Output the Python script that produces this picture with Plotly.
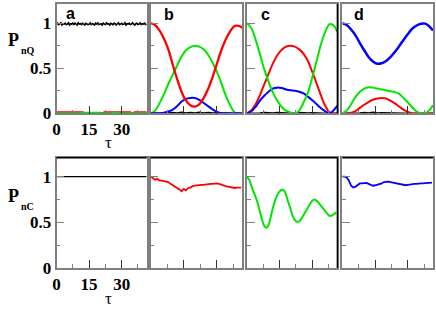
import plotly.graph_objects as go

# ---------------- data ----------------
TAU = [0, 2, 4, 6, 8, 10, 12, 14, 16, 18, 20, 22, 24, 26, 28, 30, 32, 34, 36, 38, 40, 41.5]
TAU_FINE = list(range(0, 42))
X_TICKS = [0, 15, 30]
X_TICK_TEXT = ["0", "15", "30"]
Y_TICKS = [0, 0.5, 1]
Y_TICK_TEXT = ["0", "0.5", "1"]
PANEL_LABELS = ["a", "b", "c", "d"]

# panel a (quantum populations), sampled every half unit of tau
a_black = [0.99, 1.0, 0.985, 0.995, 1.005, 0.98, 0.995, 0.99, 1.0, 0.985, 0.99, 1.005, 0.98,
           0.995, 0.99, 1.0, 0.985, 1.0, 0.99, 0.98, 1.005, 0.99, 0.995, 0.985, 1.0, 0.99, 0.98,
           1.0, 0.995, 0.985, 0.99, 1.005, 0.985, 0.995, 0.99, 0.98, 1.0, 0.99, 1.005, 0.985,
           0.99, 0.995, 0.98, 1.0, 0.99, 0.985, 1.005, 0.99, 0.995, 0.98, 1.0, 0.99, 0.985, 1.0,
           0.995, 0.98, 0.99, 1.005, 0.985, 0.995, 1.0, 0.985, 0.99, 1.005, 0.98, 0.995, 0.99,
           1.0, 0.985, 0.99, 1.005, 0.99, 0.98, 0.995, 1.0, 0.985, 0.99, 1.005, 0.985, 0.995,
           0.99, 1.0, 0.985, 0.99]
a_red = [0.012, 0.012, 0.012, 0.012, 0.012, 0.012, 0.0, 0.0, 0.0, 0.0, 0.0, 0.012, 0.012, 0.012,
         0.012, 0.012, 0.012, 0.0, 0.012, 0.012, 0.012, 0.012]
a_green = [0.0, 0.0, 0.0, 0.0, 0.0, 0.0, 0.006, 0.006, 0.006, 0.006, 0.0, 0.0, 0.0, 0.006,
           0.0, 0.0, 0.0, 0.0, 0.0, 0.0, 0.0, 0.0]
a_blue = [0.0] * 22

# panel b
b_red = [1.0, 0.98, 0.92, 0.83, 0.71, 0.54, 0.38, 0.24, 0.14, 0.09, 0.075, 0.10, 0.17, 0.27,
         0.40, 0.55, 0.70, 0.82, 0.91, 0.97, 0.97, 0.95]
b_green = [0.0, 0.03, 0.11, 0.21, 0.325, 0.43, 0.53, 0.63, 0.70, 0.735, 0.75, 0.74, 0.71, 0.65,
           0.565, 0.46, 0.335, 0.20, 0.09, 0.01, 0.0, 0.0]
b_blue = [0.0, 0.0, 0.0, 0.005, 0.02, 0.04, 0.08, 0.13, 0.16, 0.17, 0.17, 0.15, 0.115, 0.08,
          0.045, 0.015, 0.0, 0.0, 0.0, 0.0, 0.0, 0.0]
b_black = [0.0, 0.0, 0.004, 0.008, 0.004, 0.01, 0.006, 0.012, 0.006, 0.01, 0.005, 0.012, 0.006,
           0.01, 0.004, 0.008, 0.004, 0.0, 0.0, 0.0, 0.0, 0.0]

# panel c
c_green = [1.0, 0.95, 0.82, 0.66, 0.49, 0.35, 0.23, 0.14, 0.07, 0.03, 0.01, 0.0, 0.03, 0.12,
           0.23, 0.40, 0.58, 0.77, 0.91, 0.99, 0.97, 0.90]
c_red = [0.0, 0.03, 0.10, 0.20, 0.32, 0.44, 0.555, 0.645, 0.705, 0.74, 0.75, 0.74, 0.71, 0.66,
         0.58, 0.46, 0.33, 0.195, 0.08, 0.01, 0.0, 0.0]
c_blue = [0.0, 0.02, 0.07, 0.14, 0.195, 0.24, 0.275, 0.285, 0.28, 0.265, 0.255, 0.25, 0.24,
          0.22, 0.185, 0.145, 0.10, 0.055, 0.02, 0.0, 0.04, 0.085]
c_black = [0.0, 0.0, 0.006, 0.004, 0.01, 0.006, 0.004, 0.01, 0.006, 0.004, 0.008, 0.004, 0.01,
           0.006, 0.004, 0.008, 0.004, 0.0, 0.0, 0.0, 0.0, 0.0]

# panel d
d_blue = [1.0, 0.98, 0.93, 0.865, 0.78, 0.70, 0.625, 0.575, 0.55, 0.555, 0.58, 0.625, 0.68,
          0.745, 0.815, 0.88, 0.94, 0.975, 0.995, 0.995, 0.96, 0.92]
d_green = [0.0, 0.03, 0.10, 0.18, 0.24, 0.275, 0.29, 0.285, 0.275, 0.265, 0.255, 0.245, 0.235,
           0.215, 0.17, 0.12, 0.065, 0.02, 0.0, 0.0, 0.04, 0.09]
d_red = [0.0, 0.0, 0.005, 0.025, 0.06, 0.095, 0.125, 0.15, 0.165, 0.17, 0.165, 0.14, 0.11,
         0.075, 0.04, 0.015, 0.0, 0.0, 0.0, 0.0, 0.0, 0.0]
d_black = [0.0, 0.0, 0.004, 0.008, 0.004, 0.01, 0.006, 0.012, 0.004, 0.008, 0.006, 0.01, 0.004,
           0.008, 0.004, 0.0, 0.0, 0.0, 0.0, 0.0, 0.0, 0.0]

# classical populations (bottom row)
a_class_tau = [0, 41.5]
a_class = [1.0, 1.0]
b_class = [1.0, 0.985, 0.965, 0.975, 0.955, 0.955, 0.95, 0.945, 0.94, 0.92, 0.905, 0.895, 0.88,
           0.86, 0.84, 0.865, 0.85, 0.875, 0.88, 0.895, 0.9, 0.905, 0.905, 0.91, 0.91, 0.915,
           0.915, 0.92, 0.92, 0.925, 0.925, 0.92, 0.91, 0.905, 0.895, 0.89, 0.885, 0.88, 0.875,
           0.88, 0.88, 0.88]
c_class = [1.0, 0.97, 0.91, 0.84, 0.78, 0.71, 0.62, 0.53, 0.46, 0.44, 0.47, 0.56, 0.66, 0.74,
           0.80, 0.835, 0.855, 0.85, 0.80, 0.72, 0.65, 0.57, 0.525, 0.505, 0.51, 0.54, 0.58,
           0.62, 0.66, 0.70, 0.735, 0.75, 0.735, 0.71, 0.68, 0.65, 0.62, 0.59, 0.57, 0.575,
           0.59, 0.61]
d_class = [1.0, 1.0, 0.99, 0.955, 0.90, 0.88, 0.89, 0.91, 0.925, 0.925, 0.93, 0.93, 0.92, 0.91,
           0.90, 0.905, 0.91, 0.915, 0.925, 0.94, 0.945, 0.945, 0.94, 0.935, 0.93, 0.925, 0.92,
           0.915, 0.91, 0.905, 0.91, 0.915, 0.92, 0.92, 0.92, 0.925, 0.925, 0.925, 0.93, 0.93,
           0.93, 0.935]

# ---------------- layout ----------------
W, H = 436, 316
RED, GREEN, BLUE, BLACK = "#ff0000", "#00e600", "#0000ff", "#000000"
FRAME = "#7f7f7f"
cols = [(53, 144), (148, 240.5), (245, 336.5), (341.5, 433)]
rows = [(4, 117), (163, 276.7)]
yranges = [[0, 1.215], [0, 1.205]]


def px(p):
    return p / W


def py(p):
    return 1 - p / H


fig = go.Figure()
layout = dict(width=W, height=H, margin=dict(l=0, r=0, t=0, b=0),
              paper_bgcolor="white", plot_bgcolor="white", showlegend=False)

TICKFONT = dict(family="Liberation Serif", size=17, color="black", weight="bold")

for r in range(2):
    for c in range(4):
        k = r * 4 + c + 1
        first = (c == 0)
        xa = dict(domain=[px(cols[c][0]), px(cols[c][1])], range=[0, 41.5],
                  anchor="y%d" % k, showgrid=False, zeroline=False,
                  showline=True, linecolor=FRAME, linewidth=1.5, mirror=True,
                  ticks="inside", tickvals=X_TICKS, ticktext=X_TICK_TEXT, ticklen=8,
                  tickcolor="#333333", tickwidth=1.2,
                  minor=dict(ticks="inside", tickvals=[7.5, 22.5, 37.5], ticklen=4,
                             tickcolor=FRAME, tickwidth=1),
                  showticklabels=first, tickfont=TICKFONT)
        ya = dict(domain=[py(rows[r][1]), py(rows[r][0])], range=yranges[r],
                  anchor="x%d" % k, showgrid=False, zeroline=False,
                  showline=True, linecolor=FRAME, linewidth=1.5, mirror=True,
                  ticks="inside", tickvals=Y_TICKS, ticktext=Y_TICK_TEXT, ticklen=8,
                  tickcolor=FRAME, tickwidth=1.2,
                  minor=dict(ticks="inside", tickvals=[0.25, 0.75], ticklen=4,
                             tickcolor=FRAME, tickwidth=1),
                  showticklabels=first, tickfont=TICKFONT)
        layout["xaxis%d" % k] = xa
        layout["yaxis%d" % k] = ya


def add(k, x, y, color, width=2, shape="spline"):
    fig.add_trace(go.Scatter(x=x, y=y, mode="lines", xaxis="x%d" % k, yaxis="y%d" % k,
                             line=dict(color=color, width=width, shape=shape),
                             hoverinfo="skip"))


# top row
TAU_A = [i * 0.5 for i in range(84)]
add(1, TAU, a_blue, BLUE, 2, "linear")
add(1, TAU, a_red, RED, 2, "hv")
add(1, TAU, a_green, GREEN, 2, "hv")
add(1, TAU_A, a_black, BLACK, 1.6, "linear")

add(2, TAU, b_black, BLACK, 1.2, "linear")
add(2, TAU, b_green, GREEN, 2)
add(2, TAU, b_blue, BLUE, 2)
add(2, TAU, b_red, RED, 2.3)

add(3, TAU, c_black, BLACK, 1.2, "linear")
add(3, TAU, c_red, RED, 2)
add(3, TAU, c_blue, BLUE, 2)
add(3, TAU, c_green, GREEN, 2)

add(4, TAU, d_black, BLACK, 1.2, "linear")
add(4, TAU, d_red, RED, 2)
add(4, TAU, d_green, GREEN, 2)
add(4, TAU, d_blue, BLUE, 2.5)

# bottom row
add(5, a_class_tau, a_class, BLACK, 1.3, "linear")
add(6, TAU_FINE, b_class, RED, 1.8, "linear")
add(7, TAU_FINE, c_class, GREEN, 2, "spline")
add(8, TAU_FINE, d_class, BLUE, 1.8, "linear")

# panel letters
label_pos = [(67, 14), (167, 15), (264, 15), (358, 15)]
annotations = []
for lab, (lx, ly) in zip(PANEL_LABELS, label_pos):
    annotations.append(dict(text="<b>%s</b>" % lab, x=px(lx), y=py(ly), xref="paper",
                            yref="paper", showarrow=False, xanchor="center", yanchor="middle",
                            font=dict(family="Liberation Sans", size=16, color="black")))

# axis titles
for (pyy, sub) in [(41, "nQ"), (202, "nC")]:
    annotations.append(dict(text="<b>P</b>", x=px(2), y=py(pyy), xref="paper", yref="paper",
                            showarrow=False, xanchor="left", yanchor="middle",
                            font=dict(family="Liberation Serif", size=18, color="black")))
    annotations.append(dict(text="<b>%s</b>" % sub, x=px(15), y=py(pyy + 11), xref="paper",
                            yref="paper", showarrow=False, xanchor="left", yanchor="middle",
                            font=dict(family="Liberation Serif", size=10, color="black")))
for tyy in [147, 308]:
    annotations.append(dict(text="τ", x=px(105), y=py(tyy), xref="paper", yref="paper",
                            showarrow=False, xanchor="center", yanchor="middle",
                            font=dict(family="Liberation Serif", size=17, color="black")))
layout["annotations"] = annotations

# darker frame edges as in the reference
shapes = []
for c in range(4):
    shapes.append(dict(type="line", xref="paper", yref="paper",
                       x0=px(cols[c][0]), x1=px(cols[c][1]), y0=py(rows[1][0]), y1=py(rows[1][0]),
                       line=dict(color="black", width=1.5)))
for r in range(2):
    shapes.append(dict(type="line", xref="paper", yref="paper",
                       x0=px(cols[2][1]), x1=px(cols[2][1]), y0=py(rows[r][0]), y1=py(rows[r][1]),
                       line=dict(color="black", width=1.5)))
layout["shapes"] = shapes

fig.update_layout(**layout)

# remove the page margin and let the figure fill the browser viewport exactly
PAGE_FIT = (
    "document.documentElement.style.margin='0';"
    "document.documentElement.style.overflow='hidden';"
    "document.body.style.margin='0';"
    "document.body.style.overflow='hidden';"
    "var gd=document.getElementById('{plot_id}');"
    "var vw=document.documentElement.clientWidth||window.innerWidth;"
    "var vh=document.documentElement.clientHeight||window.innerHeight;"
    "if(vw>100&&vh>100&&(vw!==436||vh!==316)){"
    "gd.style.width=vw+'px';gd.style.height=vh+'px';"
    "Plotly.relayout(gd,{width:vw,height:vh});}"
)
fig.write_html("out.html", config={"displayModeBar": False}, post_script=PAGE_FIT)
